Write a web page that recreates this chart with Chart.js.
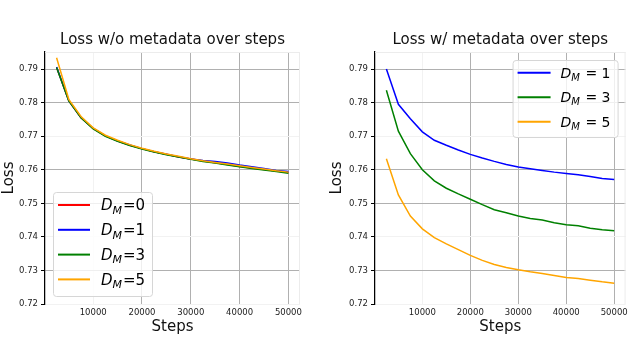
<!DOCTYPE html>
<html>
<head>
<meta charset="utf-8">
<script src="https://cdn.jsdelivr.net/npm/chart.js@4.4.0/dist/chart.umd.min.js"></script>
<style>
  body { margin: 0; background: #fff; }
  #wrap { display: flex; width: 632px; height: 338px; }
  canvas { display: block; }
</style>
</head>
<body>
<div id="wrap">
  <canvas id="lossNoMeta" width="316" height="338"></canvas>
  <canvas id="lossMeta" width="316" height="338"></canvas>
</div>
<script>
const steps = [2500, 5000, 7500, 10000, 12500, 15000, 17500, 20000, 22500, 25000,
               27500, 30000, 32500, 35000, 37500, 40000, 42500, 45000, 47500, 50000];
const yTicks = [0.72, 0.73, 0.74, 0.75, 0.76, 0.77, 0.78, 0.79];
const xTicks = [10000, 20000, 30000, 40000, 50000];
const faintY = [0.72, 0.74, 0.77];
const faintX = [10000];

// loss without metadata
const noMetaD0 = [0.7905, 0.7806, 0.7755, 0.7723, 0.7701, 0.7686, 0.7673, 0.7663, 0.7654, 0.7646,
                  0.7638, 0.7632, 0.7626, 0.7621, 0.7616, 0.7610, 0.7605, 0.7601, 0.7596, 0.7592];
const noMetaD1 = [0.7906, 0.7806, 0.7756, 0.7723, 0.7701, 0.7686, 0.7674, 0.7663, 0.7654, 0.7646,
                  0.7639, 0.7632, 0.7628, 0.7625, 0.7620, 0.7614, 0.7609, 0.7604, 0.7598, 0.7595];
const noMetaD3 = [0.7905, 0.7805, 0.7755, 0.7722, 0.7700, 0.7685, 0.7672, 0.7662, 0.7653, 0.7645,
                  0.7638, 0.7631, 0.7625, 0.7620, 0.7614, 0.7609, 0.7604, 0.7599, 0.7595, 0.7590];
const noMetaD5 = [0.7934, 0.7810, 0.7759, 0.7725, 0.7703, 0.7688, 0.7675, 0.7664, 0.7655, 0.7647,
                  0.7640, 0.7633, 0.7627, 0.7622, 0.7617, 0.7612, 0.7607, 0.7602, 0.7597, 0.7593];

// loss with metadata
const metaD1 = [0.7900, 0.7795, 0.7752, 0.7713, 0.7688, 0.7673, 0.7659, 0.7646, 0.7635, 0.7625,
                0.7616, 0.7608, 0.7603, 0.7598, 0.7593, 0.7589, 0.7585, 0.7580, 0.7574, 0.7571];
const metaD3 = [0.7837, 0.7715, 0.7648, 0.7600, 0.7567, 0.7545, 0.7528, 0.7512, 0.7496, 0.7481,
                0.7472, 0.7462, 0.7455, 0.7450, 0.7442, 0.7436, 0.7433, 0.7426, 0.7421, 0.7418];
const metaD5 = [0.7633, 0.7525, 0.7462, 0.7424, 0.7398, 0.7379, 0.7362, 0.7345, 0.7330, 0.7318,
                0.7309, 0.7302, 0.7296, 0.7291, 0.7285, 0.7279, 0.7276, 0.7271, 0.7266, 0.7262];

const FONT = '"DejaVu Sans", sans-serif';

// later series are drawn on top, like matplotlib
function series(label, values, color, idx) {
    return {
        label: label,
        data: steps.map((s, i) => ({ x: s, y: values[i] })),
        borderColor: color,
        backgroundColor: color,
        borderWidth: 1.5,
        pointRadius: 0,
        tension: 0,
        order: -idx
    };
}

function drawMathLabel(ctx, x, y, rest, size) {
    ctx.fillStyle = '#000';
    ctx.textBaseline = 'alphabetic';
    ctx.textAlign = 'left';
    ctx.font = 'italic ' + size + 'px ' + FONT;
    ctx.fillText('D', x, y);
    x += ctx.measureText('D').width;
    const sub = Math.round(size * 0.7);
    ctx.font = 'italic ' + sub + 'px ' + FONT;
    ctx.fillText('M', x, y + size * 0.22);
    x += ctx.measureText('M').width + 1;
    ctx.font = size + 'px ' + FONT;
    ctx.fillText(rest, x, y);
}

// faint frame on top/right and a matplotlib-like legend
const frameAndLegend = {
    id: 'frameAndLegend',
    afterDatasetsDraw(chart, args, opts) {
        const ctx = chart.ctx;
        const a = chart.chartArea;
        ctx.save();
        ctx.strokeStyle = '#ececec';
        ctx.lineWidth = 1;
        ctx.beginPath();
        ctx.moveTo(a.left, a.top + 0.5); ctx.lineTo(a.right, a.top + 0.5);
        ctx.moveTo(a.right - 0.5, a.top); ctx.lineTo(a.right - 0.5, a.bottom);
        ctx.stroke();

        const bx = opts.corner === 'tr' ? a.right - opts.w - opts.inset : a.left + opts.inset;
        const by = opts.corner === 'tr' ? a.top + opts.inset : a.bottom - opts.h - opts.inset;
        ctx.beginPath();
        ctx.roundRect(bx + 0.5, by + 0.5, opts.w, opts.h, 3);
        ctx.fillStyle = 'rgba(255,255,255,0.8)';
        ctx.fill();
        ctx.strokeStyle = '#d6d6d6';
        ctx.stroke();

        chart.data.datasets.forEach((ds, i) => {
            const cy = by + opts.first + i * opts.row;
            ctx.strokeStyle = ds.borderColor;
            ctx.lineWidth = 2;
            ctx.beginPath();
            ctx.moveTo(bx + 5, cy);
            ctx.lineTo(bx + opts.lineEnd, cy);
            ctx.stroke();
            drawMathLabel(ctx, bx + opts.textX, cy + opts.size * 0.36, ds.label.slice(3), opts.size);
        });
        ctx.restore();
    }
};

function makeChart(id, title, datasets, padLeft, yWidth, padRight, legendOpts) {
    const ctx = document.getElementById(id).getContext('2d');
    return new Chart(ctx, {
        type: 'line',
        data: { datasets: datasets },
        options: {
            responsive: false,
            animation: false,
            layout: { padding: { left: padLeft, right: padRight, top: 0, bottom: 0 } },
            plugins: {
                legend: { display: false },
                tooltip: { enabled: false },
                title: {
                    display: true,
                    text: title,
                    fullSize: false,
                    color: '#111',
                    font: { family: FONT, size: 15, weight: 'normal', lineHeight: 1.2 },
                    padding: { top: 31, bottom: 3 }
                },
                frameAndLegend: legendOpts
            },
            scales: {
                x: {
                    type: 'linear',
                    min: 125,
                    max: 52375,
                    afterBuildTicks: (scale) => { scale.ticks = xTicks.map(v => ({ value: v })); },
                    afterFit: (scale) => { scale.height = 34; },
                    grid: {
                        drawTicks: false,
                        color: (c) => faintX.includes(c.tick && c.tick.value) ? '#f2f2f2' : '#b0b0b0'
                    },
                    border: { display: false },
                    ticks: {
                        padding: 4,
                        maxRotation: 0,
                        color: '#222',
                        font: { family: FONT, size: 8.5 },
                        callback: (v) => String(v)
                    },
                    title: {
                        display: true,
                        text: 'Steps',
                        color: '#111',
                        font: { family: FONT, size: 15, lineHeight: 1.2 },
                        padding: { top: 0, bottom: 2 }
                    }
                },
                y: {
                    min: 0.72,
                    max: 0.7951,
                    afterBuildTicks: (scale) => { scale.ticks = yTicks.map(v => ({ value: v })); },
                    afterFit: (scale) => { scale.width = yWidth; },
                    grid: {
                        tickLength: 4,
                        tickColor: '#000',
                        color: (c) => faintY.includes(c.tick && c.tick.value) ? '#f2f2f2' : '#b0b0b0'
                    },
                    border: { color: '#000', width: 1.25 },
                    ticks: {
                        padding: 3,
                        color: '#222',
                        font: { family: FONT, size: 8.5 },
                        callback: (v) => v.toFixed(2)
                    },
                    title: {
                        display: true,
                        text: 'Loss',
                        color: '#111',
                        font: { family: FONT, size: 15, lineHeight: 1.2 },
                        padding: { top: 0, bottom: 0 }
                    }
                }
            }
        },
        plugins: [frameAndLegend]
    });
}

makeChart('lossNoMeta', 'Loss w/o metadata over steps', [
    series('D_M=0', noMetaD0, 'red', 0),
    series('D_M=1', noMetaD1, 'blue', 1),
    series('D_M=3', noMetaD3, 'green', 2),
    series('D_M=5', noMetaD5, 'orange', 3)
], 0, 45, 16, { corner: 'bl', inset: 8, w: 99, h: 104, first: 13, row: 24.8, lineEnd: 37, textX: 48, size: 15 });

makeChart('lossMeta', 'Loss w/ metadata over steps', [
    series('D_M = 1', metaD1, 'blue', 0),
    series('D_M = 3', metaD3, 'green', 1),
    series('D_M = 5', metaD5, 'orange', 2)
], 12, 47, 3, { corner: 'tr', inset: 8, w: 105, h: 77, first: 12.7, row: 24.5, lineEnd: 38, textX: 48, size: 14 });
</script>
</body>
</html>
